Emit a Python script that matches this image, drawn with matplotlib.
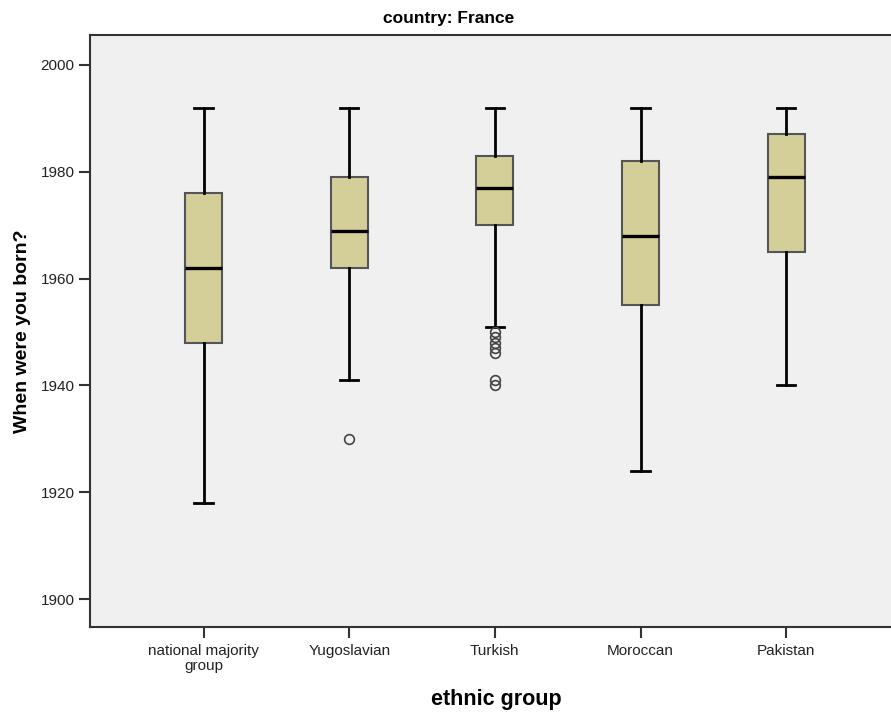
import matplotlib
matplotlib.use("Agg")
import matplotlib.pyplot as plt

plt.rcParams['font.family'] = ['Liberation Sans', 'DejaVu Sans']

categories = ["national majority\ngroup", "Yugoslavian", "Turkish", "Moroccan", "Pakistan"]
whislo = [1918, 1941, 1951, 1924, 1940]
q1 = [1948, 1962, 1970, 1955, 1965]
med = [1962, 1969, 1977, 1968, 1979]
q3 = [1976, 1979, 1983, 1982, 1987]
whishi = [1992, 1992, 1992, 1992, 1992]
fliers = [[], [1930], [1950, 1949, 1948, 1947, 1946, 1941, 1940], [], []]
yticks = [1900, 1920, 1940, 1960, 1980, 2000]

stats = []
for i in range(len(categories)):
    stats.append(dict(label=categories[i], whislo=whislo[i], q1=q1[i], med=med[i],
                      q3=q3[i], whishi=whishi[i], fliers=fliers[i]))

fig = plt.figure(figsize=(8.91, 7.15), dpi=100)
ax = fig.add_axes([90/891, 1-627/715, 1-90/891, (627-35)/715])
ax.set_facecolor('#f0f0f0')

ax.bxp(stats, positions=range(1, 6), widths=0.255, patch_artist=True,
       boxprops=dict(facecolor='#d4cf99', edgecolor='#555555', linewidth=1.5),
       medianprops=dict(color='black', linewidth=2.4),
       whiskerprops=dict(color='black', linewidth=2),
       capprops=dict(color='black', linewidth=2),
       capwidths=0.125,
       flierprops=dict(marker='o', markerfacecolor='none', markeredgecolor='#444444',
                       markersize=7, markeredgewidth=1.2))

ax.set_xlim(0.22, 5.72)
ax.set_ylim(1894.8, 2005.6)
ax.set_yticks(yticks)
ax.set_yticklabels([str(t) for t in yticks], fontsize=11, color='#222222')
ax.set_xticks(range(1, 6))
ax.set_xticklabels(categories, fontsize=11, color='#222222', linespacing=1.1)
ax.tick_params(axis='both', length=8, width=1.5, color='#333333', pad=3)
ax.tick_params(axis='x', pad=4)

for s in ['top', 'left', 'bottom']:
    ax.spines[s].set_linewidth(1.5)
    ax.spines[s].set_color('#333333')
ax.spines['right'].set_visible(False)

fig.text(449/891, 1-18/715, 'country: France', fontsize=12.5, fontweight='bold',
         ha='center', va='center')
ax.set_ylabel('When were you born?', fontsize=14, fontweight='bold', labelpad=7)
fig.text(496/891, 1-699/715, 'ethnic group', fontsize=15.5, fontweight='bold',
         ha='center', va='center')

fig.savefig('out.png', dpi=100)
